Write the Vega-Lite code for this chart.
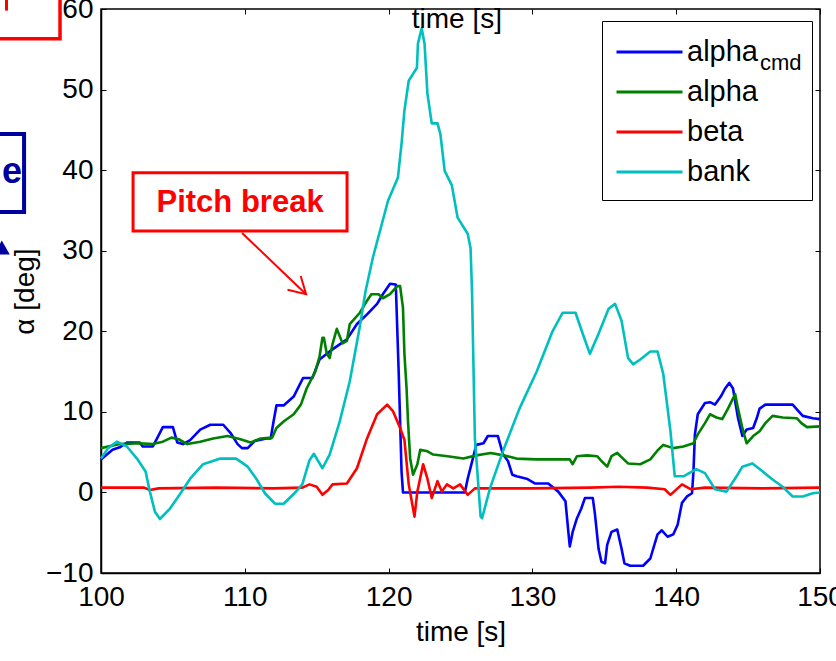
{
"$schema": "https://vega.github.io/schema/vega-lite/v6.json",
"width": 719, "height": 564,
"autosize": {"type": "none"},
"padding": {"left": 101, "top": 9, "right": 16, "bottom": 88},
"background": "white",
"config": {
 "font": "Liberation Sans",
 "view": {"stroke": "black", "strokeWidth": 1.5},
 "axis": {"grid": false, "domainColor": "black", "domainWidth": 1.5, "tickColor": "black", "tickSize": -5, "tickWidth": 1, "labelColor": "black", "labelFontSize": 28, "titleFontSize": 28, "titleFontWeight": "normal", "titleColor": "black", "labelFlush": false, "labelOverlap": false}
},
"datasets": {
"series": [
{"s":"alpha_cmd","t":100.0,"v":4.1},{"s":"alpha_cmd","t":100.8,"v":5.3},{"s":"alpha_cmd","t":101.3,"v":5.6},{"s":"alpha_cmd","t":101.8,"v":6.2},{"s":"alpha_cmd","t":102.7,"v":6.2},{"s":"alpha_cmd","t":102.9,"v":5.7},{"s":"alpha_cmd","t":103.6,"v":5.7},{"s":"alpha_cmd","t":103.9,"v":6.7},{"s":"alpha_cmd","t":104.3,"v":8.1},{"s":"alpha_cmd","t":105.0,"v":8.1},{"s":"alpha_cmd","t":105.3,"v":6.2},{"s":"alpha_cmd","t":105.7,"v":6.0},{"s":"alpha_cmd","t":106.2,"v":6.5},{"s":"alpha_cmd","t":106.9,"v":7.8},{"s":"alpha_cmd","t":107.6,"v":8.4},{"s":"alpha_cmd","t":108.5,"v":8.4},{"s":"alpha_cmd","t":109.0,"v":7.4},{"s":"alpha_cmd","t":109.5,"v":6.0},{"s":"alpha_cmd","t":109.8,"v":5.5},{"s":"alpha_cmd","t":110.2,"v":5.5},{"s":"alpha_cmd","t":110.7,"v":6.4},{"s":"alpha_cmd","t":111.5,"v":6.7},{"s":"alpha_cmd","t":111.8,"v":6.7},{"s":"alpha_cmd","t":112.0,"v":8.8},{"s":"alpha_cmd","t":112.2,"v":10.8},{"s":"alpha_cmd","t":112.7,"v":10.8},{"s":"alpha_cmd","t":113.4,"v":11.9},{"s":"alpha_cmd","t":114.05,"v":14.2},{"s":"alpha_cmd","t":114.7,"v":14.2},{"s":"alpha_cmd","t":115.2,"v":16.5},{"s":"alpha_cmd","t":115.9,"v":17.5},{"s":"alpha_cmd","t":117.1,"v":19.0},{"s":"alpha_cmd","t":117.8,"v":20.9},{"s":"alpha_cmd","t":118.5,"v":22.1},{"s":"alpha_cmd","t":119.2,"v":23.4},{"s":"alpha_cmd","t":119.6,"v":24.6},{"s":"alpha_cmd","t":120.1,"v":25.9},{"s":"alpha_cmd","t":120.5,"v":25.8},{"s":"alpha_cmd","t":120.7,"v":15.0},{"s":"alpha_cmd","t":120.9,"v":2.6},{"s":"alpha_cmd","t":121.0,"v":0.0},{"s":"alpha_cmd","t":125.3,"v":0.0},{"s":"alpha_cmd","t":125.5,"v":1.7},{"s":"alpha_cmd","t":125.8,"v":3.8},{"s":"alpha_cmd","t":126.1,"v":5.9},{"s":"alpha_cmd","t":126.6,"v":6.1},{"s":"alpha_cmd","t":126.9,"v":7.0},{"s":"alpha_cmd","t":127.6,"v":7.0},{"s":"alpha_cmd","t":127.96,"v":4.7},{"s":"alpha_cmd","t":128.3,"v":3.9},{"s":"alpha_cmd","t":128.6,"v":2.2},{"s":"alpha_cmd","t":128.9,"v":2.0},{"s":"alpha_cmd","t":129.6,"v":1.7},{"s":"alpha_cmd","t":130.2,"v":1.1},{"s":"alpha_cmd","t":131.1,"v":1.1},{"s":"alpha_cmd","t":131.8,"v":0.1},{"s":"alpha_cmd","t":132.3,"v":-1.1},{"s":"alpha_cmd","t":132.5,"v":-4.9},{"s":"alpha_cmd","t":132.6,"v":-6.7},{"s":"alpha_cmd","t":132.8,"v":-4.9},{"s":"alpha_cmd","t":133.1,"v":-3.2},{"s":"alpha_cmd","t":133.4,"v":-2.0},{"s":"alpha_cmd","t":133.65,"v":-0.7},{"s":"alpha_cmd","t":134.2,"v":-0.7},{"s":"alpha_cmd","t":134.35,"v":-2.7},{"s":"alpha_cmd","t":134.6,"v":-7.0},{"s":"alpha_cmd","t":134.8,"v":-8.6},{"s":"alpha_cmd","t":135.05,"v":-8.8},{"s":"alpha_cmd","t":135.2,"v":-6.5},{"s":"alpha_cmd","t":135.5,"v":-4.9},{"s":"alpha_cmd","t":135.9,"v":-4.6},{"s":"alpha_cmd","t":136.2,"v":-7.0},{"s":"alpha_cmd","t":136.4,"v":-8.8},{"s":"alpha_cmd","t":136.8,"v":-9.1},{"s":"alpha_cmd","t":137.7,"v":-9.1},{"s":"alpha_cmd","t":138.2,"v":-8.2},{"s":"alpha_cmd","t":138.7,"v":-5.2},{"s":"alpha_cmd","t":139.0,"v":-4.7},{"s":"alpha_cmd","t":139.4,"v":-5.5},{"s":"alpha_cmd","t":139.8,"v":-5.2},{"s":"alpha_cmd","t":140.1,"v":-4.0},{"s":"alpha_cmd","t":140.4,"v":-1.3},{"s":"alpha_cmd","t":140.75,"v":-0.5},{"s":"alpha_cmd","t":141.1,"v":-0.1},{"s":"alpha_cmd","t":141.2,"v":2.6},{"s":"alpha_cmd","t":141.3,"v":7.2},{"s":"alpha_cmd","t":141.5,"v":9.7},{"s":"alpha_cmd","t":142.0,"v":11.1},{"s":"alpha_cmd","t":142.35,"v":11.2},{"s":"alpha_cmd","t":142.7,"v":10.9},{"s":"alpha_cmd","t":143.1,"v":11.9},{"s":"alpha_cmd","t":143.4,"v":12.9},{"s":"alpha_cmd","t":143.7,"v":13.6},{"s":"alpha_cmd","t":143.95,"v":12.9},{"s":"alpha_cmd","t":144.3,"v":9.2},{"s":"alpha_cmd","t":144.6,"v":7.0},{"s":"alpha_cmd","t":144.9,"v":7.8},{"s":"alpha_cmd","t":145.35,"v":8.0},{"s":"alpha_cmd","t":145.6,"v":9.2},{"s":"alpha_cmd","t":145.8,"v":10.4},{"s":"alpha_cmd","t":146.2,"v":10.9},{"s":"alpha_cmd","t":148.1,"v":10.9},{"s":"alpha_cmd","t":148.5,"v":10.1},{"s":"alpha_cmd","t":148.8,"v":9.5},{"s":"alpha_cmd","t":149.5,"v":9.2},{"s":"alpha_cmd","t":150.0,"v":9.1},
{"s":"alpha","t":100.0,"v":5.5},{"s":"alpha","t":101.3,"v":6.0},{"s":"alpha","t":102.7,"v":6.1},{"s":"alpha","t":103.6,"v":6.0},{"s":"alpha","t":104.3,"v":6.3},{"s":"alpha","t":104.9,"v":6.8},{"s":"alpha","t":105.4,"v":6.6},{"s":"alpha","t":106.0,"v":6.0},{"s":"alpha","t":106.9,"v":6.3},{"s":"alpha","t":107.8,"v":6.7},{"s":"alpha","t":108.8,"v":7.0},{"s":"alpha","t":109.7,"v":6.6},{"s":"alpha","t":110.4,"v":6.2},{"s":"alpha","t":111.1,"v":6.7},{"s":"alpha","t":111.9,"v":6.8},{"s":"alpha","t":112.2,"v":8.0},{"s":"alpha","t":112.7,"v":8.8},{"s":"alpha","t":113.4,"v":9.7},{"s":"alpha","t":113.9,"v":10.9},{"s":"alpha","t":114.3,"v":12.9},{"s":"alpha","t":114.9,"v":15.0},{"s":"alpha","t":115.2,"v":16.9},{"s":"alpha","t":115.4,"v":19.2},{"s":"alpha","t":115.5,"v":19.2},{"s":"alpha","t":115.7,"v":17.2},{"s":"alpha","t":115.9,"v":16.7},{"s":"alpha","t":116.1,"v":18.4},{"s":"alpha","t":116.4,"v":20.3},{"s":"alpha","t":116.8,"v":18.5},{"s":"alpha","t":117.1,"v":18.8},{"s":"alpha","t":117.3,"v":20.9},{"s":"alpha","t":118.0,"v":22.3},{"s":"alpha","t":118.5,"v":23.8},{"s":"alpha","t":118.8,"v":24.6},{"s":"alpha","t":119.3,"v":24.6},{"s":"alpha","t":119.6,"v":24.1},{"s":"alpha","t":120.1,"v":24.6},{"s":"alpha","t":120.6,"v":25.6},{"s":"alpha","t":120.8,"v":25.6},{"s":"alpha","t":121.0,"v":22.9},{"s":"alpha","t":121.1,"v":17.2},{"s":"alpha","t":121.25,"v":12.9},{"s":"alpha","t":121.35,"v":8.8},{"s":"alpha","t":121.5,"v":4.2},{"s":"alpha","t":121.7,"v":2.2},{"s":"alpha","t":122.0,"v":3.5},{"s":"alpha","t":122.2,"v":5.3},{"s":"alpha","t":122.7,"v":5.1},{"s":"alpha","t":123.1,"v":4.7},{"s":"alpha","t":124.1,"v":4.5},{"s":"alpha","t":125.2,"v":4.2},{"s":"alpha","t":126.1,"v":4.6},{"s":"alpha","t":127.1,"v":4.9},{"s":"alpha","t":128.0,"v":4.6},{"s":"alpha","t":128.9,"v":4.2},{"s":"alpha","t":130.3,"v":4.1},{"s":"alpha","t":132.6,"v":4.1},{"s":"alpha","t":132.8,"v":3.5},{"s":"alpha","t":133.1,"v":4.5},{"s":"alpha","t":133.8,"v":4.6},{"s":"alpha","t":134.5,"v":4.5},{"s":"alpha","t":134.8,"v":3.9},{"s":"alpha","t":135.2,"v":3.2},{"s":"alpha","t":135.5,"v":4.5},{"s":"alpha","t":135.9,"v":4.9},{"s":"alpha","t":136.3,"v":4.2},{"s":"alpha","t":136.65,"v":3.6},{"s":"alpha","t":137.5,"v":3.5},{"s":"alpha","t":138.2,"v":4.1},{"s":"alpha","t":138.7,"v":5.2},{"s":"alpha","t":139.1,"v":5.9},{"s":"alpha","t":139.8,"v":5.5},{"s":"alpha","t":140.5,"v":5.7},{"s":"alpha","t":141.2,"v":6.1},{"s":"alpha","t":141.5,"v":7.2},{"s":"alpha","t":142.0,"v":8.6},{"s":"alpha","t":142.35,"v":9.7},{"s":"alpha","t":142.8,"v":9.3},{"s":"alpha","t":143.2,"v":9.1},{"s":"alpha","t":143.6,"v":10.4},{"s":"alpha","t":144.1,"v":12.2},{"s":"alpha","t":144.3,"v":10.4},{"s":"alpha","t":144.6,"v":8.0},{"s":"alpha","t":144.9,"v":6.1},{"s":"alpha","t":145.35,"v":7.0},{"s":"alpha","t":145.8,"v":7.6},{"s":"alpha","t":146.2,"v":8.6},{"s":"alpha","t":146.7,"v":9.5},{"s":"alpha","t":147.4,"v":9.3},{"s":"alpha","t":148.4,"v":9.2},{"s":"alpha","t":148.7,"v":8.6},{"s":"alpha","t":149.1,"v":8.1},{"s":"alpha","t":150.0,"v":8.2},
{"s":"beta","t":100.0,"v":0.6},{"s":"beta","t":103.0,"v":0.6},{"s":"beta","t":103.4,"v":0.3},{"s":"beta","t":104.0,"v":0.5},{"s":"beta","t":108.0,"v":0.6},{"s":"beta","t":112.0,"v":0.5},{"s":"beta","t":114.0,"v":0.6},{"s":"beta","t":114.5,"v":1.0},{"s":"beta","t":115.0,"v":0.7},{"s":"beta","t":115.4,"v":-0.3},{"s":"beta","t":115.8,"v":0.3},{"s":"beta","t":116.1,"v":1.0},{"s":"beta","t":117.1,"v":1.1},{"s":"beta","t":117.8,"v":3.0},{"s":"beta","t":118.5,"v":6.7},{"s":"beta","t":119.2,"v":9.7},{"s":"beta","t":119.9,"v":10.9},{"s":"beta","t":120.3,"v":10.1},{"s":"beta","t":120.8,"v":8.0},{"s":"beta","t":121.1,"v":6.5},{"s":"beta","t":121.4,"v":1.0},{"s":"beta","t":121.8,"v":-3.0},{"s":"beta","t":122.0,"v":0.1},{"s":"beta","t":122.4,"v":3.5},{"s":"beta","t":122.7,"v":1.7},{"s":"beta","t":123.0,"v":-0.7},{"s":"beta","t":123.4,"v":1.4},{"s":"beta","t":123.7,"v":0.1},{"s":"beta","t":124.05,"v":1.0},{"s":"beta","t":124.5,"v":0.5},{"s":"beta","t":124.97,"v":1.0},{"s":"beta","t":125.5,"v":-0.3},{"s":"beta","t":126.0,"v":0.5},{"s":"beta","t":130.0,"v":0.5},{"s":"beta","t":134.0,"v":0.6},{"s":"beta","t":136.0,"v":0.7},{"s":"beta","t":138.0,"v":0.6},{"s":"beta","t":139.2,"v":0.4},{"s":"beta","t":139.6,"v":-0.3},{"s":"beta","t":140.4,"v":1.0},{"s":"beta","t":141.0,"v":0.4},{"s":"beta","t":142.0,"v":0.6},{"s":"beta","t":146.0,"v":0.5},{"s":"beta","t":150.0,"v":0.6},
{"s":"bank","t":100.0,"v":4.2},{"s":"bank","t":100.5,"v":5.5},{"s":"bank","t":101.1,"v":6.3},{"s":"bank","t":101.8,"v":5.7},{"s":"bank","t":102.5,"v":4.2},{"s":"bank","t":103.1,"v":2.6},{"s":"bank","t":103.4,"v":0.1},{"s":"bank","t":103.75,"v":-2.4},{"s":"bank","t":104.1,"v":-3.3},{"s":"bank","t":104.8,"v":-2.0},{"s":"bank","t":105.5,"v":-0.2},{"s":"bank","t":106.2,"v":1.7},{"s":"bank","t":107.1,"v":3.5},{"s":"bank","t":108.3,"v":4.2},{"s":"bank","t":109.4,"v":4.2},{"s":"bank","t":110.2,"v":3.2},{"s":"bank","t":110.8,"v":1.7},{"s":"bank","t":111.4,"v":-0.1},{"s":"bank","t":112.1,"v":-1.4},{"s":"bank","t":112.7,"v":-1.4},{"s":"bank","t":113.4,"v":-0.2},{"s":"bank","t":114.0,"v":1.0},{"s":"bank","t":114.5,"v":4.0},{"s":"bank","t":114.8,"v":4.8},{"s":"bank","t":115.4,"v":3.0},{"s":"bank","t":115.9,"v":4.7},{"s":"bank","t":116.6,"v":8.8},{"s":"bank","t":117.3,"v":13.8},{"s":"bank","t":118.0,"v":20.6},{"s":"bank","t":118.4,"v":25.0},{"s":"bank","t":118.9,"v":29.1},{"s":"bank","t":119.96,"v":36.2},{"s":"bank","t":120.65,"v":39.1},{"s":"bank","t":120.9,"v":43.3},{"s":"bank","t":121.1,"v":47.4},{"s":"bank","t":121.4,"v":51.1},{"s":"bank","t":121.97,"v":52.7},{"s":"bank","t":122.04,"v":55.7},{"s":"bank","t":122.3,"v":57.6},{"s":"bank","t":122.5,"v":55.7},{"s":"bank","t":122.7,"v":49.5},{"s":"bank","t":123.0,"v":45.8},{"s":"bank","t":123.4,"v":45.8},{"s":"bank","t":123.6,"v":44.5},{"s":"bank","t":123.9,"v":39.9},{"s":"bank","t":124.4,"v":38.1},{"s":"bank","t":124.8,"v":34.1},{"s":"bank","t":125.5,"v":32.1},{"s":"bank","t":125.7,"v":30.3},{"s":"bank","t":125.8,"v":25.0},{"s":"bank","t":126.0,"v":6.7},{"s":"bank","t":126.4,"v":-3.0},{"s":"bank","t":126.5,"v":-3.2},{"s":"bank","t":127.05,"v":0.5},{"s":"bank","t":127.95,"v":5.1},{"s":"bank","t":129.1,"v":10.4},{"s":"bank","t":130.3,"v":15.0},{"s":"bank","t":131.4,"v":20.0},{"s":"bank","t":132.1,"v":22.3},{"s":"bank","t":133.0,"v":22.3},{"s":"bank","t":133.5,"v":19.7},{"s":"bank","t":134.0,"v":17.2},{"s":"bank","t":134.6,"v":19.7},{"s":"bank","t":135.3,"v":22.8},{"s":"bank","t":135.75,"v":23.4},{"s":"bank","t":136.2,"v":21.3},{"s":"bank","t":136.65,"v":16.7},{"s":"bank","t":137.0,"v":15.9},{"s":"bank","t":137.5,"v":16.5},{"s":"bank","t":138.2,"v":17.5},{"s":"bank","t":138.7,"v":17.5},{"s":"bank","t":139.1,"v":14.7},{"s":"bank","t":139.6,"v":7.6},{"s":"bank","t":139.9,"v":2.0},{"s":"bank","t":140.5,"v":2.0},{"s":"bank","t":141.4,"v":2.9},{"s":"bank","t":142.0,"v":2.4},{"s":"bank","t":142.7,"v":0.4},{"s":"bank","t":143.5,"v":0.1},{"s":"bank","t":144.2,"v":2.0},{"s":"bank","t":144.6,"v":3.2},{"s":"bank","t":145.3,"v":3.6},{"s":"bank","t":145.8,"v":2.9},{"s":"bank","t":146.7,"v":1.6},{"s":"bank","t":147.4,"v":0.7},{"s":"bank","t":148.1,"v":-0.5},{"s":"bank","t":148.8,"v":-0.5},{"s":"bank","t":149.5,"v":-0.1},{"s":"bank","t":150.0,"v":0.0}
]
},
"resolve": {"axis": {"x": "independent", "y": "independent"}},
"layer": [
 {
  "data": {"name": "series"},
  "mark": {"type": "line", "strokeWidth": 2.6, "strokeJoin": "round"},
  "encoding": {
   "x": {"field": "t", "type": "quantitative", "scale": {"domain": [100, 150], "nice": false, "zero": false},
         "axis": {"orient": "bottom", "values": [100, 110, 120, 130, 140, 150], "labelPadding": 15, "title": "time [s]", "titleY": 67, "titleBaseline": "alphabetic"}},
   "y": {"field": "v", "type": "quantitative", "scale": {"domain": [-10, 60], "nice": false, "zero": false},
         "axis": {"orient": "left", "values": [-10, 0, 10, 20, 30, 40, 50, 60], "labelPadding": 13, "title": "α [deg]", "titleAngle": 270, "titleX": -76, "titleY": 282, "titleBaseline": "middle", "titleAlign": "center"}},
   "color": {"field": "s", "type": "nominal",
     "scale": {"domain": ["alpha_cmd", "alpha", "beta", "bank"], "range": ["#0000ff", "#008000", "#ff0000", "#00bfbf"]},
     "legend": {"orient": "none", "legendX": 501, "legendY": 12, "title": null, "symbolType": "M-1,0H3", "symbolSize": 1089, "symbolStrokeWidth": 3, "labelFontSize": 29, "labelColor": "black", "labelOffset": 36, "padding": 13, "rowPadding": 7, "strokeColor": "black", "labelLimit": 0,
       "labelExpr": "datum.label == 'alpha_cmd' ? 'alpha\u00a0\u00a0\u00a0\u00a0\u00a0\u200b' : datum.label"}}
  }
 },
 {
  "data": {"values": [{}]},
  "mark": {"type": "rect", "filled": false, "stroke": "#ff0000", "strokeWidth": 3},
  "encoding": {
   "x": {"datum": 102.23, "type": "quantitative", "scale": {"domain": [100, 150], "nice": false, "zero": false},
         "axis": {"orient": "top", "values": [100, 110, 120, 130, 140, 150], "labels": false, "title": null, "domain": false}},
   "x2": {"datum": 117.11},
   "y": {"datum": 39.68, "type": "quantitative", "scale": {"domain": [-10, 60], "nice": false, "zero": false},
         "axis": {"orient": "right", "values": [-10, 0, 10, 20, 30, 40, 50, 60], "labels": false, "title": null, "domain": false}},
   "y2": {"datum": 32.46}
  }
 },
 {
  "data": {"values": [{}]},
  "mark": {"type": "text", "text": "Pitch break", "font": "Liberation Sans", "fontSize": 31, "fontWeight": "bold", "color": "#ff0000", "align": "center", "baseline": "middle"},
  "encoding": {
   "x": {"datum": 109.67, "type": "quantitative", "axis": null},
   "y": {"datum": 35.9, "type": "quantitative", "axis": null}
  }
 },
 {
  "data": {"values": [{}]},
  "mark": {"type": "rule", "color": "#ff0000", "strokeWidth": 2},
  "encoding": {
   "x": {"datum": 109.81, "type": "quantitative", "axis": null},
   "y": {"datum": 32.2, "type": "quantitative", "axis": null},
   "x2": {"datum": 114.26},
   "y2": {"datum": 24.6}
  }
 },
 {
  "data": {"values": [{}]},
  "mark": {"type": "point", "shape": "M-1,-0.58L0,0L-1,0.58", "filled": false, "stroke": "#ff0000", "strokeWidth": 2, "size": 1089, "angle": 43.6, "opacity": 1},
  "encoding": {
   "x": {"datum": 114.26, "type": "quantitative", "axis": null},
   "y": {"datum": 24.6, "type": "quantitative", "axis": null}
  }
 },
 {
  "data": {"values": [{}]},
  "mark": {"type": "text", "text": "time [s]", "fontSize": 28, "color": "black", "align": "center", "baseline": "alphabetic"},
  "encoding": {
   "x": {"datum": 124.75, "type": "quantitative", "axis": null},
   "y": {"datum": 57.6, "type": "quantitative", "axis": null}
  }
 },
 {
  "data": {"values": [{}]},
  "mark": {"type": "text", "text": "cmd", "fontSize": 22, "color": "black", "align": "left", "baseline": "alphabetic"},
  "encoding": {
   "x": {"datum": 145.83, "type": "quantitative", "axis": null},
   "y": {"datum": 52.4, "type": "quantitative", "axis": null}
  }
 },
 {
  "data": {"values": [{}]},
  "mark": {"type": "rect", "filled": false, "stroke": "#ff0000", "strokeWidth": 3.5},
  "encoding": {
   "x": {"datum": 90, "type": "quantitative", "axis": null},
   "x2": {"datum": 97.15},
   "y": {"datum": 64, "type": "quantitative", "axis": null},
   "y2": {"datum": 56.3}
  }
 },
 {
  "data": {"values": [{}]},
  "mark": {"type": "rule", "color": "#ff0000", "strokeWidth": 3},
  "encoding": {
   "x": {"datum": 93.43, "type": "quantitative", "axis": null},
   "y": {"datum": 62, "type": "quantitative", "axis": null},
   "y2": {"datum": 59.8}
  }
 },
 {
  "data": {"values": [{}]},
  "mark": {"type": "rect", "filled": false, "stroke": "#0000a0", "strokeWidth": 4},
  "encoding": {
   "x": {"datum": 90, "type": "quantitative", "axis": null},
   "x2": {"datum": 94.65},
   "y": {"datum": 44.5, "type": "quantitative", "axis": null},
   "y2": {"datum": 34.8}
  }
 },
 {
  "data": {"values": [{}]},
  "mark": {"type": "text", "text": "e", "fontSize": 36, "fontWeight": "bold", "color": "#0000a0", "align": "right", "baseline": "alphabetic"},
  "encoding": {
   "x": {"datum": 94.5, "type": "quantitative", "axis": null},
   "y": {"datum": 38.4, "type": "quantitative", "axis": null}
  }
 },
 {
  "data": {"values": [{}]},
  "mark": {"type": "point", "shape": "triangle-up", "filled": true, "color": "#0000a0", "size": 256, "opacity": 1},
  "encoding": {
   "x": {"datum": 93.1, "type": "quantitative", "axis": null},
   "y": {"datum": 30.4, "type": "quantitative", "axis": null}
  }
 }
]
}
